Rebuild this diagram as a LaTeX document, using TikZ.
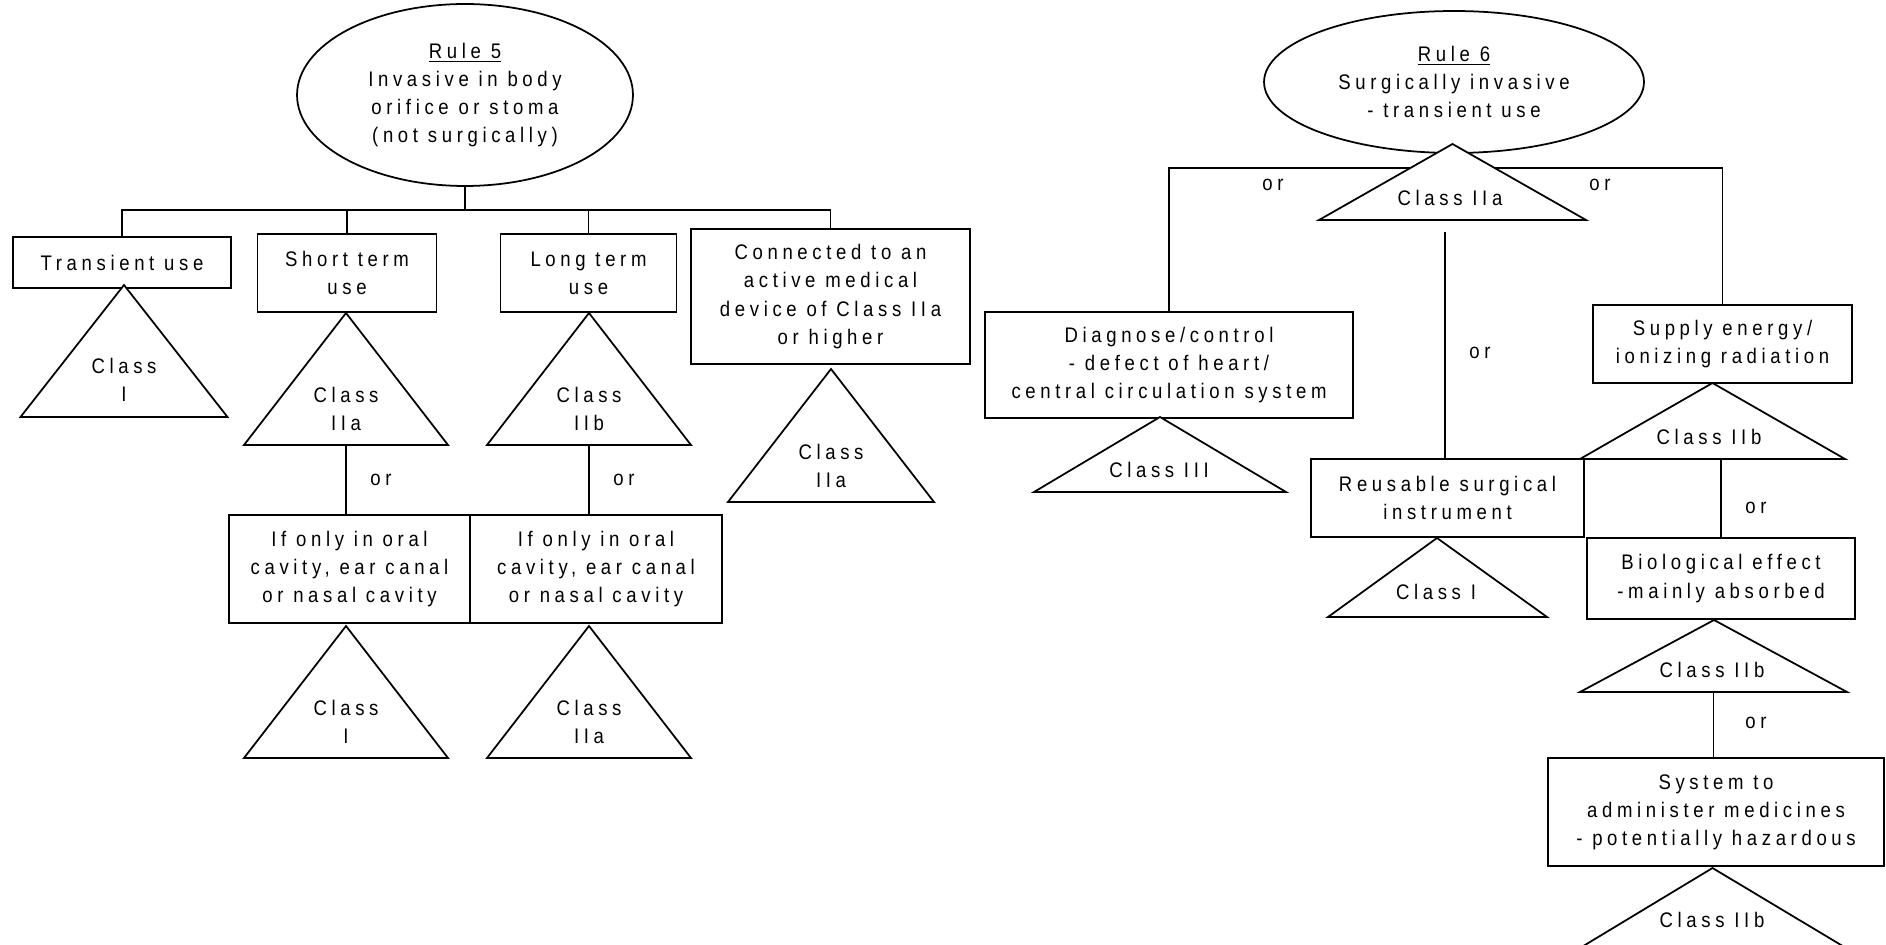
\documentclass[tikz,border=0pt]{standalone}
\usepackage{fontspec}
\setmainfont{Liberation Sans}[FakeStretch=0.88,LetterSpace=22]
\usepackage{tikz}
\usetikzlibrary{shapes.geometric}

\begin{document}
\begin{tikzpicture}[x=0.02cm, y=-0.02cm,
    txt/.style={align=center, inner sep=0pt, font=\fontsize{12}{16}\selectfont},
    box/.style={txt, draw, line width=1pt},
    rule/.style={txt, draw, ellipse, line width=1pt},
    tri/.style={draw, line width=1pt, fill=white, line join=miter},
    link/.style={line width=0.8pt}]
        \clip (0,0) rectangle (1886,945);

        \node[rule, minimum width=6.72cm, minimum height=3.64cm] (rule5) at (465,95) {\underline{Rule 5}\\Invasive in body\\orifice or stoma\\(not surgically)};
        \node[box, minimum width=4.36cm, minimum height=1.02cm] (transient) at (122,262.5) {Transient use};
        \node[box, minimum width=3.58cm, minimum height=1.56cm] (short) at (347,273) {Short term\\use};
        \node[box, minimum width=3.52cm, minimum height=1.56cm] (long) at (588.5,273) {Long term\\use};
        \node[box, minimum width=5.58cm, minimum height=2.7cm] (connected) at (830.5,296.5) {Connected to an\\active medical\\device of Class IIa\\or higher};
        \node[box, minimum width=4.82cm, minimum height=2.16cm] (oral1) at (349.5,569) {If only in oral\\cavity, ear canal\\or nasal cavity};
        \node[box, minimum width=5.04cm, minimum height=2.16cm] (oral2) at (596,569) {If only in oral\\cavity, ear canal\\or nasal cavity};

        \coordinate (bus5) at (465,210);
        \draw[link] (rule5.south) -- (bus5);
        \draw[link] (transient.north) |- (bus5) -| (connected.north);
        \draw[link] (short.north) -- (short.north |- bus5);
        \draw[link] (long.north) -- (long.north |- bus5);

        \draw[tri] (124,285) -- (227.5,417) -- (20.5,417) -- cycle;
        \node[txt] (cl1) at (124,380) {Class\\I};
        \draw[tri] (346,313) -- (448,445) -- coordinate (t2b) (244,445) -- cycle;
        \node[txt] (cl2) at (346,409) {Class\\IIa};
        \draw[tri] (589,313) -- (691,445) -- coordinate (t3b) (487,445) -- cycle;
        \node[txt] (cl3) at (589,409) {Class\\IIb};
        \draw[tri] (831,369) -- (934,502) -- (728,502) -- cycle;
        \node[txt] (cl4) at (831,466) {Class\\IIa};
        \draw[tri] (346,626) -- (448,758) -- (244,758) -- cycle;
        \node[txt] (cl5) at (346,722) {Class\\I};
        \draw[tri] (589,626) -- (691,758) -- (487,758) -- cycle;
        \node[txt] (cl6) at (589,722) {Class\\IIa};

        \draw[link] (t2b) -- (t2b |- oral1.north);
        \draw[link] (t3b) -- (t3b |- oral2.north);
        \node[txt] (or1) at (381,480) {or};
        \node[txt] (or2) at (624,480) {or};

        \node[rule, minimum width=7.6cm, minimum height=2.84cm] (rule6) at (1454,82) {\underline{Rule 6}\\Surgically invasive\\- transient use};
        \node[box, minimum width=7.36cm, minimum height=2.12cm] (diag) at (1169,365) {Diagnose/control\\- defect of heart/\\central circulation system};
        \node[box, minimum width=5.18cm, minimum height=1.56cm] (supply) at (1722.5,344) {Supply energy/\\ionizing radiation};
        \node[box, minimum width=5.46cm, minimum height=1.56cm] (reuse) at (1447.5,498) {Reusable surgical\\instrument};
        \node[box, minimum width=5.36cm, minimum height=1.62cm] (bio) at (1721,578.5) {Biological effect\\-mainly absorbed};
        \node[box, minimum width=6.72cm, minimum height=2.16cm] (system) at (1716,812) {System to\\administer medicines\\- potentially hazardous};

        \coordinate (bus6) at (1452,168);
        \coordinate (mid6) at (1445,232);
        \draw[link] (diag.north) |- (bus6) -| (supply.north);
        \draw[link] (mid6) -- (mid6 |- reuse.north);

        \draw[tri] (1452.5,144) -- (1586,220) -- (1319,220) -- cycle;
        \node[txt] (cr0) at (1450,198) {Class IIa};
        \draw[tri] (1160,417) -- (1286,492) -- (1034,492) -- cycle;
        \node[txt] (cr1) at (1159,470) {Class III};
        \draw[tri] (1712.5,383) -- (1845,459) -- (1580,459) -- cycle;
        \node[txt] (cr2) at (1709,437) {Class IIb};
        \draw[tri] (1437,538) -- (1547,617) -- (1328,617) -- cycle;
        \node[txt] (cr3) at (1436,592) {Class I};
        \draw[tri] (1714,620) -- (1847,692) -- coordinate (r4b) (1580,692) -- cycle;
        \node[txt] (cr4) at (1712,670) {Class IIb};
        \draw[tri] (1712.5,868) -- (1846,948) -- (1580,948) -- cycle;
        \node[txt] (cr5) at (1712,920) {Class IIb};

        \coordinate (r2b) at (1721,459);
        \draw[link] (r2b) -- (r2b |- bio.north);
        \draw[link] (r4b) -- (r4b |- system.north);

        \node[txt] (or3) at (1273,185) {or};
        \node[txt] (or4) at (1600,185) {or};
        \node[txt] (or5) at (1480,353) {or};
        \node[txt] (or6) at (1756,508) {or};
        \node[txt] (or7) at (1756,723) {or};
    \end{tikzpicture}
\end{document}
